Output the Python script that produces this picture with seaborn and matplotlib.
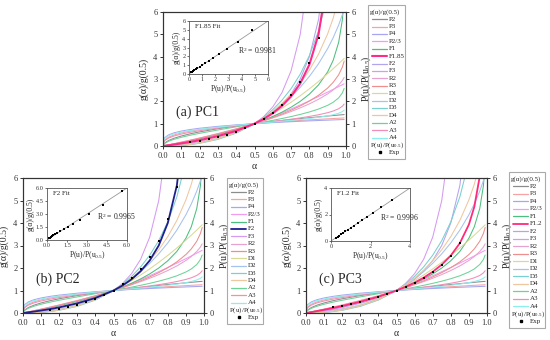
import matplotlib
matplotlib.use("Agg")
import matplotlib.pyplot as plt
from matplotlib.lines import Line2D
from matplotlib.patches import Rectangle
from matplotlib.ticker import FormatStrFormatter
import seaborn as sns

# ── Master-plot curves g(a)/g(0.5) ──────────────────────────────────
alpha = [0, 0.002, 0.01, 0.03, 0.06, 0.1, 0.15, 0.2, 0.3, 0.4, 0.5, 0.55, 0.6,
         0.65, 0.7, 0.75, 0.8, 0.85, 0.9, 0.93, 0.96, 0.98, 0.99]

P2 = [0, 0.063, 0.141, 0.245, 0.346, 0.447, 0.548, 0.632, 0.775, 0.894, 1, 1.049, 1.095,
      1.140, 1.183, 1.225, 1.265, 1.304, 1.342, 1.364, 1.386, 1.400, 1.407]
P3 = [0, 0.159, 0.271, 0.392, 0.493, 0.585, 0.669, 0.737, 0.843, 0.928, 1, 1.032, 1.063,
      1.091, 1.119, 1.145, 1.170, 1.193, 1.216, 1.230, 1.243, 1.251, 1.256]
P4 = [0, 0.251, 0.376, 0.495, 0.589, 0.669, 0.740, 0.795, 0.880, 0.946, 1, 1.024, 1.047,
      1.068, 1.088, 1.107, 1.125, 1.142, 1.158, 1.168, 1.177, 1.183, 1.186]
P23 = [0, 0.0003, 0.003, 0.015, 0.042, 0.089, 0.164, 0.253, 0.465, 0.716, 1, 1.154, 1.315,
       1.482, 1.657, 1.837, 2.024, 2.217, 2.415, 2.537, 2.660, 2.744, 2.786]
F1 = [0, 0.003, 0.015, 0.044, 0.089, 0.152, 0.234, 0.322, 0.515, 0.737, 1, 1.152, 1.322,
      1.515, 1.737, 2.0, 2.322, 2.737, 3.322, 3.837, 4.644, 5.644, 6.644]
F185 = [0, 0.002, 0.011, 0.033, 0.067, 0.117, 0.185, 0.260, 0.441, 0.678, 1, 1.211, 1.469,
        1.796, 2.221, 2.803, 3.648, 5.004, 7.575, 10.70, 17.98, 33.4, 61.2]
F12 = [0, 0.003, 0.014, 0.041, 0.084, 0.143, 0.222, 0.307, 0.497, 0.723, 1, 1.165, 1.353,
       1.571, 1.831, 2.149, 2.554, 3.103, 3.933, 4.722, 6.077, 7.980, 10.17]
F2 = [0, 0.002, 0.010, 0.031, 0.064, 0.111, 0.176, 0.25, 0.429, 0.667, 1, 1.222, 1.5,
      1.857, 2.333, 3.0, 4.0, 5.667, 9.0, 13.29, 24.0, 49.0, 99.0]
F3 = [0, 0.001, 0.007, 0.021, 0.044, 0.078, 0.128, 0.188, 0.347, 0.593, 1, 1.313, 1.75,
      2.388, 3.370, 5.0, 8.0, 14.48, 33.0, 67.7, 208.0, 833.0, 3333.0]
R2 = [0, 0.003, 0.017, 0.052, 0.104, 0.175, 0.266, 0.360, 0.558, 0.770, 1, 1.124, 1.255,
      1.394, 1.544, 1.707, 1.887, 2.092, 2.335, 2.511, 2.731, 2.931, 3.073]
R3 = [0, 0.003, 0.016, 0.049, 0.099, 0.167, 0.256, 0.347, 0.543, 0.759, 1, 1.133, 1.276,
      1.431, 1.602, 1.794, 2.013, 2.272, 2.597, 2.850, 3.190, 3.532, 3.803]
D1 = [0, 0.00002, 0.0004, 0.004, 0.014, 0.04, 0.09, 0.16, 0.36, 0.64, 1, 1.21, 1.44,
      1.69, 1.96, 2.25, 2.56, 2.89, 3.24, 3.460, 3.686, 3.842, 3.920]
D2 = [0, 0.00001, 0.0003, 0.003, 0.012, 0.034, 0.077, 0.140, 0.328, 0.609, 1, 1.243, 1.522,
      1.842, 2.208, 2.629, 3.116, 3.685, 4.365, 4.848, 5.418, 5.877, 6.152]
D3 = [0, 0.00001, 0.0003, 0.002, 0.010, 0.028, 0.065, 0.121, 0.295, 0.576, 1, 1.283, 1.628,
      2.049, 2.568, 3.217, 4.051, 5.161, 6.746, 8.120, 10.17, 12.47, 14.46]
D4 = [0, 0.00001, 0.0003, 0.003, 0.011, 0.032, 0.073, 0.133, 0.317, 0.598, 1, 1.256, 1.556,
      1.908, 2.321, 2.810, 3.397, 4.114, 5.028, 5.725, 6.621, 7.437, 7.998]
A2 = [0, 0.054, 0.120, 0.210, 0.299, 0.390, 0.484, 0.567, 0.717, 0.859, 1, 1.073, 1.150,
      1.231, 1.318, 1.414, 1.524, 1.654, 1.823, 1.959, 2.155, 2.376, 2.578]
A3 = [0, 0.142, 0.244, 0.353, 0.447, 0.534, 0.617, 0.685, 0.801, 0.903, 1, 1.048, 1.098,
      1.148, 1.202, 1.260, 1.324, 1.399, 1.492, 1.566, 1.668, 1.781, 1.880]
A4 = [0, 0.232, 0.347, 0.458, 0.547, 0.624, 0.696, 0.753, 0.847, 0.927, 1, 1.036, 1.072,
      1.109, 1.148, 1.189, 1.234, 1.286, 1.350, 1.400, 1.468, 1.541, 1.606]

# ── Experimental P(u)/P(u0.5) points and fitted model values ───────
exp_alpha = [0.15, 0.2, 0.25, 0.3, 0.35, 0.4, 0.45, 0.5, 0.55, 0.6, 0.65, 0.7, 0.75, 0.8, 0.85]
exp_pc1 = [0.17, 0.23, 0.31, 0.40, 0.51, 0.64, 0.80, 1.0, 1.22, 1.49, 1.84, 2.28, 2.88, 3.70, 4.82]
exp_pc2 = [0.14, 0.20, 0.28, 0.37, 0.48, 0.62, 0.78, 1.0, 1.27, 1.56, 1.97, 2.50, 3.18, 4.18, 5.62]
exp_pc3 = [0.25, 0.33, 0.41, 0.51, 0.61, 0.72, 0.86, 1.0, 1.17, 1.35, 1.57, 1.82, 2.13, 2.55, 3.10]
fit_pc1 = [0.185, 0.260, 0.345, 0.441, 0.551, 0.678, 0.825, 1.0, 1.211, 1.469, 1.796, 2.221, 2.803, 3.648, 5.004]
fit_pc2 = [0.176, 0.25, 0.333, 0.429, 0.538, 0.667, 0.818, 1.0, 1.222, 1.5, 1.857, 2.333, 3.0, 4.0, 5.667]
fit_pc3 = [0.222, 0.307, 0.398, 0.497, 0.605, 0.723, 0.854, 1.0, 1.165, 1.353, 1.571, 1.831, 2.149, 2.554, 3.103]

# ── Style ───────────────────────────────────────────────────────────
W, H = 550, 340
sns.set_theme(style="ticks")
plt.rcParams.update({
    "font.family": ["Liberation Serif", "DejaVu Serif"],
    "mathtext.fontset": "custom",
    "mathtext.rm": "Liberation Serif",
    "mathtext.it": "Liberation Serif:italic",
    "axes.edgecolor": "#333333",
    "axes.linewidth": 0.8,
    "xtick.major.size": 2.5,
    "ytick.major.size": 2.5,
    "xtick.major.width": 0.7,
    "ytick.major.width": 0.7,
    "xtick.labelsize": 6,
    "ytick.labelsize": 6,
    "xtick.color": "#333333",
    "ytick.color": "#333333",
})

COLORS = {
    "P2": "#8c8c8c", "P3": "#f5a3a3", "P4": "#a6a6f2", "P2/3": "#f39af3",
    "F1": "#4cbf7e", "F2": "#b4a4ee", "F3": "#d69af0", "R2": "#e7a3cf",
    "R3": "#ee8e8e", "D1": "#d9d998", "D2": "#a6c2ee", "D3": "#78d0d0",
    "D4": "#f0c69e", "A2": "#6cd396", "A3": "#f18db6", "A4": "#8ceeee",
}
CURVES = {"P2": P2, "P3": P3, "P4": P4, "P2/3": P23, "F1": F1, "F1.85": F185,
          "F1.2": F12, "F2": F2, "F3": F3, "R2": R2, "R3": R3, "D1": D1, "D2": D2,
          "D3": D3, "D4": D4, "A2": A2, "A3": A3, "A4": A4}

P_LABEL = "P(u)/P(u$_{0.5}$)"
G_LABEL = "g(α)/g(0.5)"


def fig_rect(l, t, r, b):
    return [l / W, 1 - b / H, (r - l) / W, (b - t) / H]


def draw_legend(fig, l, t, r, b, entries):
    """Legend box built row by row (header, model lines, header, Exp)."""
    fig.add_artist(Rectangle((l / W, 1 - b / H), (r - l) / W, (b - t) / H,
                             transform=fig.transFigure, fill=False, ec="#aaaaaa", lw=0.8))
    rows = len(entries) + 3
    step = (b - t - 6) / rows
    y = t + 3 + step / 2
    fig.text((l + 2) / W, 1 - y / H, G_LABEL, fontsize=5, va="center")
    for name, color, lw in entries:
        y += step
        fig.add_artist(Line2D([(l + 4) / W, (l + 19) / W], [1 - y / H] * 2,
                              transform=fig.transFigure, color=color, lw=lw))
        fig.text((l + 21) / W, 1 - y / H, name, fontsize=5, va="center")
    y += step
    fig.text((l + 2) / W, 1 - y / H, P_LABEL, fontsize=5, va="center")
    y += step
    fig.add_artist(Line2D([(l + 12) / W], [1 - y / H], transform=fig.transFigure,
                          marker="s", ms=1.6, color="black", lw=0))
    fig.text((l + 21) / W, 1 - y / H, "Exp", fontsize=5, va="center")


PANELS = [
    dict(tag="(a) PC1", ax=(163, 12, 346, 146), leg=(368, 5, 405, 159),
         inset=(189, 21, 268, 74), fit="F1.85", fit_color="#ff2a8a", fit_lw=1.5,
         legend_order=["P2", "P3", "P4", "P2/3", "F1", "F1.85", "F2", "F3", "R2", "R3",
                       "D1", "D2", "D3", "D4", "A2", "A3", "A4"],
         exp=exp_pc1, model=fit_pc1, inset_max=6, inset_ticks=[0, 1, 2, 3, 4, 5, 6],
         inset_fmt="%d", r2="R$^2$ = 0.9981"),
    dict(tag="(b) PC2", ax=(23, 178, 204, 313), leg=(227, 178, 263, 324),
         inset=(47, 188, 127, 240), fit="F2", fit_color="#1f1f8f", fit_lw=1.3,
         legend_order=["P2", "P3", "P4", "P2/3", "F1", "F2", "F3", "R2", "R3",
                       "D1", "D2", "D3", "D4", "A2", "A3", "A4"],
         exp=exp_pc2, model=fit_pc2, inset_max=6, inset_ticks=[0, 1.5, 3, 4.5, 6],
         inset_fmt="%.1f", r2="R$^2$ = 0.9965"),
    dict(tag="(c) PC3", ax=(306, 178, 487, 313), leg=(509, 172, 545, 328),
         inset=(331, 188, 410, 241), fit="F1.2", fit_color="#ff2a7a", fit_lw=1.3,
         legend_order=["P2", "P3", "P4", "P2/3", "F1", "F1.2", "F2", "F3", "R2", "R3",
                       "D1", "D2", "D3", "D4", "A2", "A3", "A4"],
         exp=exp_pc3, model=fit_pc3, inset_max=4, inset_ticks=[0, 2, 4],
         inset_fmt="%d", r2="R$^2$ = 0.9996"),
]

fig = plt.figure(figsize=(5.5, 3.4), dpi=100)

for p in PANELS:
    ax = fig.add_axes(fig_rect(*p["ax"]))
    for name in p["legend_order"]:
        if name == p["fit"]:
            continue
        sns.lineplot(x=alpha, y=CURVES[name], ax=ax, color=COLORS[name], lw=0.75,
                     sort=False, estimator=None)
    sns.lineplot(x=alpha, y=CURVES[p["fit"]], ax=ax, color=p["fit_color"],
                 lw=p["fit_lw"], sort=False, estimator=None)
    sns.scatterplot(x=exp_alpha, y=p["exp"], ax=ax, color="black", marker="s",
                    s=3, linewidth=0, zorder=5)
    ax.set_xlim(0, 1)
    ax.set_ylim(0, 6)
    ax.set_xticks([i / 10 for i in range(11)])
    ax.xaxis.set_major_formatter(FormatStrFormatter("%.1f"))
    ax.set_yticks(range(7))
    ax.set_xlabel("α", fontsize=7, labelpad=2)
    ax.set_ylabel(G_LABEL, fontsize=7, labelpad=3)
    ax.tick_params(pad=1.5)
    ax.text(0.07, 1.5, p["tag"], fontsize=10, va="center")

    tw = ax.twinx()
    tw.set_ylim(0, 6)
    tw.set_yticks(range(7))
    tw.tick_params(pad=1.5)
    tw.set_ylabel(P_LABEL, fontsize=7, labelpad=3)

    # fit inset
    ins = fig.add_axes(fig_rect(*p["inset"]))
    ins.axline((0, 0), slope=1, color="#999999", lw=0.6)
    sns.scatterplot(x=p["exp"], y=p["model"], ax=ins, color="black", marker="s",
                    s=2, linewidth=0, zorder=5)
    ins.set_xlim(0, p["inset_max"])
    ins.set_ylim(0, p["inset_max"])
    ins.set_xticks(p["inset_ticks"])
    ins.set_yticks(p["inset_ticks"])
    ins.xaxis.set_major_formatter(FormatStrFormatter(p["inset_fmt"]))
    ins.yaxis.set_major_formatter(FormatStrFormatter(p["inset_fmt"]))
    ins.tick_params(labelsize=4.5, length=1.5, width=0.5, pad=1)
    for s in ins.spines.values():
        s.set_linewidth(0.6)
        s.set_color("#555555")
    ins.set_xlabel(P_LABEL, fontsize=5.5, labelpad=1)
    ins.set_ylabel(G_LABEL, fontsize=5.5, labelpad=1)
    ins.text(0.07, 0.86, p["fit"] + " Fit", transform=ins.transAxes, fontsize=5)
    ins.text(0.62, 0.38, p["r2"], transform=ins.transAxes, fontsize=5.5)

    entries = []
    for name in p["legend_order"]:
        if name == p["fit"]:
            entries.append((name, p["fit_color"], p["fit_lw"]))
        else:
            entries.append((name, COLORS[name], 0.9))
    draw_legend(fig, *p["leg"], entries)

fig.savefig("out.png", dpi=100, facecolor="white")
